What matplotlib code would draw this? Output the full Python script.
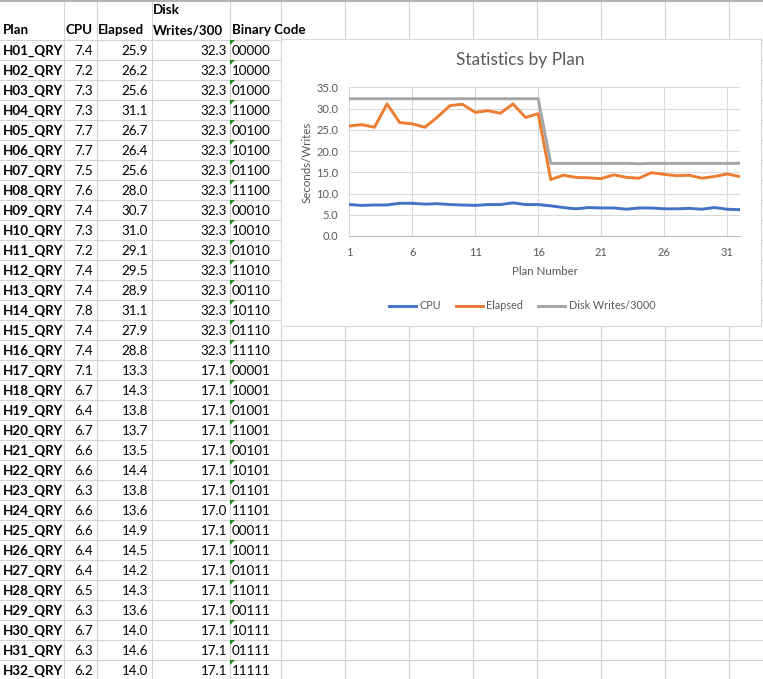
import matplotlib
matplotlib.use('Agg')
import matplotlib.pyplot as plt
from matplotlib.patches import Rectangle, Polygon

plt.rcParams['font.family'] = ['Lato', 'DejaVu Sans']

plans = ['H01_QRY', 'H02_QRY', 'H03_QRY', 'H04_QRY', 'H05_QRY', 'H06_QRY', 'H07_QRY', 'H08_QRY',
         'H09_QRY', 'H10_QRY', 'H11_QRY', 'H12_QRY', 'H13_QRY', 'H14_QRY', 'H15_QRY', 'H16_QRY',
         'H17_QRY', 'H18_QRY', 'H19_QRY', 'H20_QRY', 'H21_QRY', 'H22_QRY', 'H23_QRY', 'H24_QRY',
         'H25_QRY', 'H26_QRY', 'H27_QRY', 'H28_QRY', 'H29_QRY', 'H30_QRY', 'H31_QRY', 'H32_QRY']
cpu = [7.4, 7.2, 7.3, 7.3, 7.7, 7.7, 7.5, 7.6, 7.4, 7.3, 7.2, 7.4, 7.4, 7.8, 7.4, 7.4,
       7.1, 6.7, 6.4, 6.7, 6.6, 6.6, 6.3, 6.6, 6.6, 6.4, 6.4, 6.5, 6.3, 6.7, 6.3, 6.2]
elapsed = [25.9, 26.2, 25.6, 31.1, 26.7, 26.4, 25.6, 28.0, 30.7, 31.0, 29.1, 29.5, 28.9, 31.1, 27.9, 28.8,
           13.3, 14.3, 13.8, 13.7, 13.5, 14.4, 13.8, 13.6, 14.9, 14.5, 14.2, 14.3, 13.6, 14.0, 14.6, 14.0]
disk = [32.3, 32.3, 32.3, 32.3, 32.3, 32.3, 32.3, 32.3, 32.3, 32.3, 32.3, 32.3, 32.3, 32.3, 32.3, 32.3,
        17.1, 17.1, 17.1, 17.1, 17.1, 17.1, 17.1, 17.0, 17.1, 17.1, 17.1, 17.1, 17.1, 17.1, 17.1, 17.1]
binary = ['00000', '10000', '01000', '11000', '00100', '10100', '01100', '11100',
          '00010', '10010', '01010', '11010', '00110', '10110', '01110', '11110',
          '00001', '10001', '01001', '11001', '00101', '10101', '01101', '11101',
          '00011', '10011', '01011', '11011', '00111', '10111', '01111', '11111']
plan_numbers = list(range(1, 33))

W, H = 763, 679
fig = plt.figure(figsize=(W / 100, H / 100), dpi=100)

# spreadsheet background in pixel coordinates
bg = fig.add_axes([0, 0, 1, 1])
bg.set_xlim(0, W)
bg.set_ylim(H, 0)
bg.axis('off')

grid_col = '#d4d4d4'
col_lines = [63, 96, 151, 229, 280, 344, 408, 472, 536, 600, 664, 728]
for x in col_lines:
  bg.plot([x + 0.5, x + 0.5], [1, H], color=grid_col, lw=0.8, zorder=1)
for k in range(33):
  y = 39.5 + 20 * k
  bg.plot([0, W], [y, y], color=grid_col, lw=0.8, zorder=1)
bg.plot([0, W], [1, 1], color='#a6a6a6', lw=1.2, zorder=1)

fs = 9.6
bg.text(3, 34.5, 'Plan', fontsize=fs, fontweight='bold', va='baseline', ha='left')
bg.text(66, 34.5, 'CPU', fontsize=fs, fontweight='bold', va='baseline', ha='left')
bg.text(98, 34.5, 'Elapsed', fontsize=fs, fontweight='bold', va='baseline', ha='left')
bg.text(153, 14.5, 'Disk', fontsize=fs, fontweight='bold', va='baseline', ha='left')
bg.text(153, 34.5, 'Writes/300', fontsize=fs, fontweight='bold', va='baseline', ha='left')
bg.text(232, 34.5, 'Binary Code', fontsize=fs, fontweight='bold', va='baseline', ha='left')

for k in range(len(plans)):
  yb = 55 + 20 * k
  bg.text(3, yb, plans[k], fontsize=fs, fontweight='bold', va='baseline', ha='left')
  bg.text(93, yb, f'{cpu[k]:.1f}', fontsize=fs, va='baseline', ha='right')
  bg.text(148, yb, f'{elapsed[k]:.1f}', fontsize=fs, va='baseline', ha='right')
  bg.text(227, yb, f'{disk[k]:.1f}', fontsize=fs, va='baseline', ha='right')
  bg.text(232, yb, binary[k], fontsize=fs, va='baseline', ha='left')
  top = 40 + 20 * k
  bg.add_patch(Polygon([[230, top], [235, top], [230, top + 5]], closed=True,
                       facecolor='#1a8a1a', edgecolor='none', zorder=3))

# chart box
bg.add_patch(Rectangle((281, 39), 480, 287, facecolor='white', edgecolor='#d9d9d9',
                       lw=0.8, zorder=2))
txt = '#595959'
bg.text(520, 60, 'Statistics by Plan', fontsize=12.5, color=txt, ha='center', va='center', zorder=4)
bg.text(307, 162, 'Seconds/Writes', fontsize=8.3, color=txt, rotation=90,
        ha='center', va='center', zorder=4)
bg.text(545, 271.5, 'Plan Number', fontsize=8.3, color=txt, ha='center', va='center', zorder=4)

left, right, top_px, bottom_px = 349.3, 739.6, 87.3, 236
ax = fig.add_axes([left / W, (H - bottom_px) / H, (right - left) / W, (bottom_px - top_px) / H])
ax.set_facecolor('none')
ax.plot(plan_numbers, cpu, color='#4472C4', lw=2.1, label='CPU', solid_joinstyle='round')
ax.plot(plan_numbers, elapsed, color='#ED7D31', lw=2.1, label='Elapsed', solid_joinstyle='round')
ax.plot(plan_numbers, disk, color='#A5A5A5', lw=2.1, label='Disk Writes/3000', solid_joinstyle='round')
ax.set_xlim(1, 32)
ax.set_ylim(0, 35)
ax.set_xticks(range(1, 33, 5))
ax.set_yticks(range(0, 36, 5))
ax.set_yticklabels([f'{v:.1f}' for v in range(0, 36, 5)])
ax.grid(True, color='#d9d9d9', lw=0.8)
ax.set_axisbelow(True)
for s in ['top', 'right', 'left']:
  ax.spines[s].set_visible(False)
ax.spines['bottom'].set_color('#bfbfbf')
ax.spines['bottom'].set_linewidth(0.8)
ax.tick_params(axis='both', length=0, labelsize=8, labelcolor=txt)
ax.tick_params(axis='y', pad=8)
ax.tick_params(axis='x', pad=8)

leg = ax.legend(loc='center', bbox_to_anchor=(522 / W, (H - 306) / H),
                bbox_transform=fig.transFigure, ncol=3, frameon=False, fontsize=7.8,
                handlelength=2.5, handletextpad=0.3, columnspacing=1.4)
for t in leg.get_texts():
  t.set_color(txt)

fig.savefig('out.png', dpi=100)
